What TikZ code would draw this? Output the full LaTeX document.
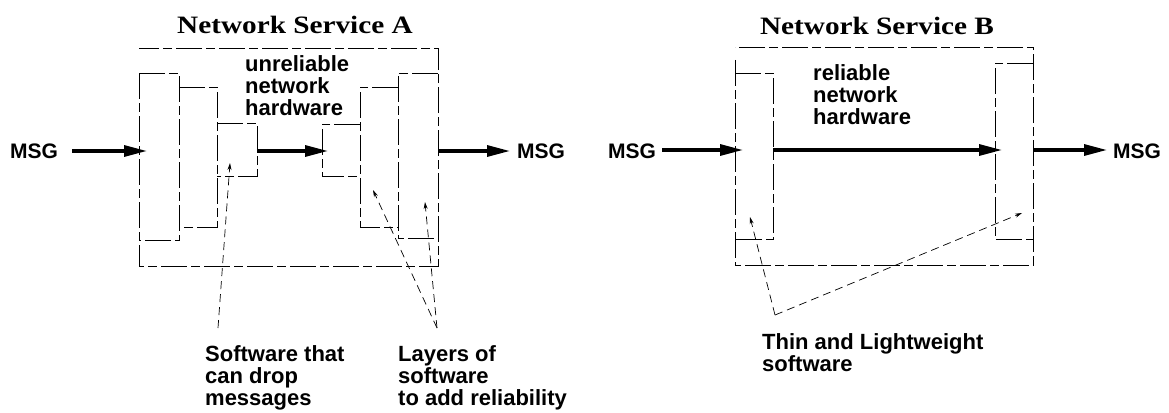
\documentclass[tikz,border=0pt]{standalone}
\usepackage{fontspec}
\setmainfont{Liberation Serif}[BoldFont={Liberation Serif Bold}]
\setsansfont{Liberation Sans}[BoldFont={Liberation Sans Bold}]
\usetikzlibrary{arrows.meta}
\begin{document}
\begin{tikzpicture}[x=1pt,y=-1pt,
  frame/.style={draw, line width=0.9pt, dash pattern=on 26pt off 4pt on 9pt off 4pt},
  flow/.style={line width=3.2pt, -{Triangle[length=23pt,width=11pt]}},
  ptr/.style={line width=0.7pt, dash pattern=on 8pt off 5pt, -{Stealth[length=7pt,width=4pt]}},
  lbl/.style={font=\sffamily\bfseries\fontsize{22}{22}\selectfont, align=left, inner sep=0pt, anchor=base west},
  msg/.style={font=\sffamily\bfseries\fontsize{21}{21}\selectfont, inner sep=0pt, anchor=base west},
  ttl/.style={font=\rmfamily\bfseries\fontsize{25}{25}\selectfont, inner sep=0pt, anchor=base}]
\useasboundingbox (0,0) rectangle (1169,412);

% ---------- Network Service A ----------
\node[ttl] (titleA) at (295,34) {\scalebox{1.17}[1]{Network Service A}};
\draw[frame] (139,73) -- (139,266) -- (438,266) -- (438,48) -- (139,48);
% sending side software layers
\draw[frame] (139,73) -- (179,73) -- (179,240) -- (139,240);
\draw[frame] (179,87) -- (217,87) -- (217,227) -- (179,227);
\draw[frame] (217,123) -- (257,123) -- (257,176) -- (217,176);
% receiving side software layers
\draw[frame] (438,73) -- (398,73) -- (398,238) -- (438,238);
\draw[frame] (398,87) -- (360,87) -- (360,227) -- (398,227);
\draw[frame] (360,124) -- (322,124) -- (322,176) -- (360,176);

% multi-line labels are placed by the baseline of their last line
\node[lbl] (hwA) at (245,115) {unreliable\\network\\hardware};

\node[msg] (msgAin) at (10,158) {MSG};
\node[msg] (msgAout) at (517,158) {MSG};
\coordinate (aInTip) at (147,151);
\coordinate (aMidTail) at (257,151);
\coordinate (aMidTip) at (328,151);
\coordinate (aOutTail) at (438,151);
\coordinate (aOutTip) at (510,151);
\draw[flow] (72,151) -- (aInTip);
\draw[flow] (aMidTail) -- (aMidTip);
\draw[flow] (aOutTail) -- (aOutTip);

\node[lbl] (dropA) at (205,405) {Software that\\can drop\\messages};
\node[lbl] (layA) at (398,405) {Layers of\\software\\to add reliability};
\coordinate (dropFoot) at (218,328);
\coordinate (layFoot) at (437,328);
\draw[ptr] (dropFoot) -- (230,163);
\draw[ptr] (layFoot) -- (425,202);
\draw[ptr] (layFoot) -- (373,190);

% ---------- Network Service B ----------
\node[ttl] (titleB) at (877,35) {\scalebox{1.17}[1]{Network Service B}};
\draw[frame] (735,60) -- (735,265) -- (1033,265) -- (1033,47) -- (735,47);
\draw[frame] (735,73) -- (773,73) -- (773,239) -- (735,239);
\draw[frame] (1033,63) -- (995,63) -- (995,239) -- (1033,239);

\node[lbl] (hwB) at (813,124) {reliable\\network\\hardware};

\node[msg] (msgBin) at (608,158) {MSG};
\node[msg] (msgBout) at (1113,158) {MSG};
\coordinate (bInTip) at (743,150);
\coordinate (bMidTail) at (773,150);
\coordinate (bMidTip) at (1002,150);
\coordinate (bOutTail) at (1033,150);
\coordinate (bOutTip) at (1107,150);
\draw[flow] (662,150) -- (bInTip);
\draw[flow] (bMidTail) -- (bMidTip);
\draw[flow] (bOutTail) -- (bOutTip);

\node[lbl] (thinB) at (762,371) {Thin and Lightweight\\software};
\coordinate (thinFoot) at (775,315);
\draw[ptr] (thinFoot) -- (1022,213);
\draw[ptr] (thinFoot) -- (750,217);
\end{tikzpicture}
\end{document}
